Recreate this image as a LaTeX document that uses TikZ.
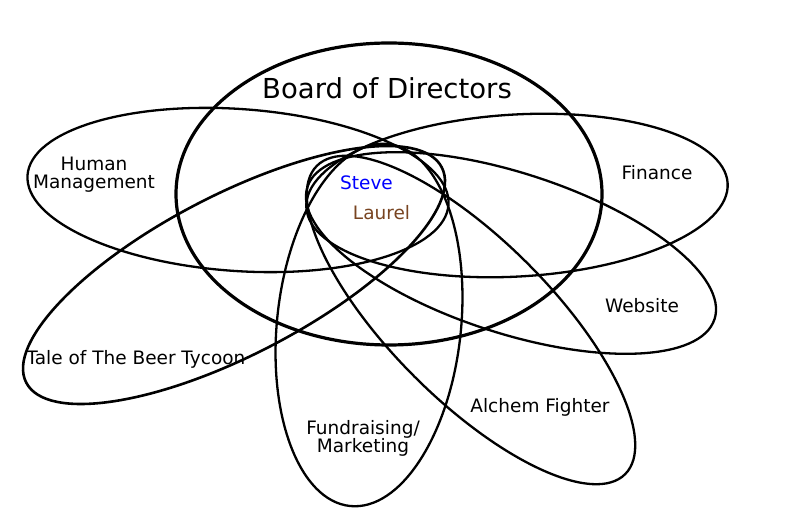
\documentclass[tikz,border=0pt]{standalone}
\usepackage{fontspec}
\setmainfont{DejaVu Sans}
\definecolor{stevecol}{RGB}{0,0,255}
\definecolor{laurelcol}{RGB}{120,68,33}
\begin{document}
\begin{tikzpicture}[x=1pt,y=1pt,
  petal/.style={draw=black,line width=2.3pt},
  board/.style={draw=black,line width=3.2pt},
  lbl/.style={inner sep=0pt,anchor=base,font=\fontsize{18.5}{18}\selectfont,align=center},
]
\useasboundingbox (0,0) rectangle (795,525);
% Board of Directors
\draw[board] (389,331) ellipse [x radius=213, y radius=151];
% Human Management
\draw[petal, rotate around={-4:(238,335)}] (238,335) ellipse [x radius=211, y radius=81];
% Finance
\draw[petal, rotate around={3.3:(517,329.5)}] (517,329.5) ellipse [x radius=211, y radius=81];
% Website
\draw[petal, rotate around={-18:(511,272)}] (511,272) ellipse [x radius=214, y radius=80];
% Alchem Fighter
\draw[petal, rotate around={-45:(471,205)}] (471,205) ellipse [x radius=218, y radius=80];
% Fundraising / Marketing
\draw[petal, rotate around={-6:(369,200)}] (369,200) ellipse [x radius=92, y radius=182];
% Tale of The Beer Tycoon
\draw[petal, line width=2.6pt, rotate around={27.4:(234,250)}] (234,250) ellipse [x radius=234, y radius=80];

\node[lbl, font=\fontsize{27.5}{28}\selectfont] (board) at (387,426) {Board of Directors};
\node[lbl] (human) at (94,336) {Human\\Management};
\node[lbl] (finance) at (657,345) {Finance};
\node[lbl] (website) at (642,212) {Website};
\node[lbl] (alchem) at (540,113) {Alchem Fighter};
\node[lbl] (fund) at (363,73) {Fundraising/\\Marketing};
\node[lbl] (tale) at (136,160) {Tale of The Beer Tycoon};
\node[lbl, text=stevecol] (steve) at (366.5,335) {Steve};
\node[lbl, text=laurelcol] (laurel) at (381.5,305) {Laurel};
\end{tikzpicture}
\end{document}
